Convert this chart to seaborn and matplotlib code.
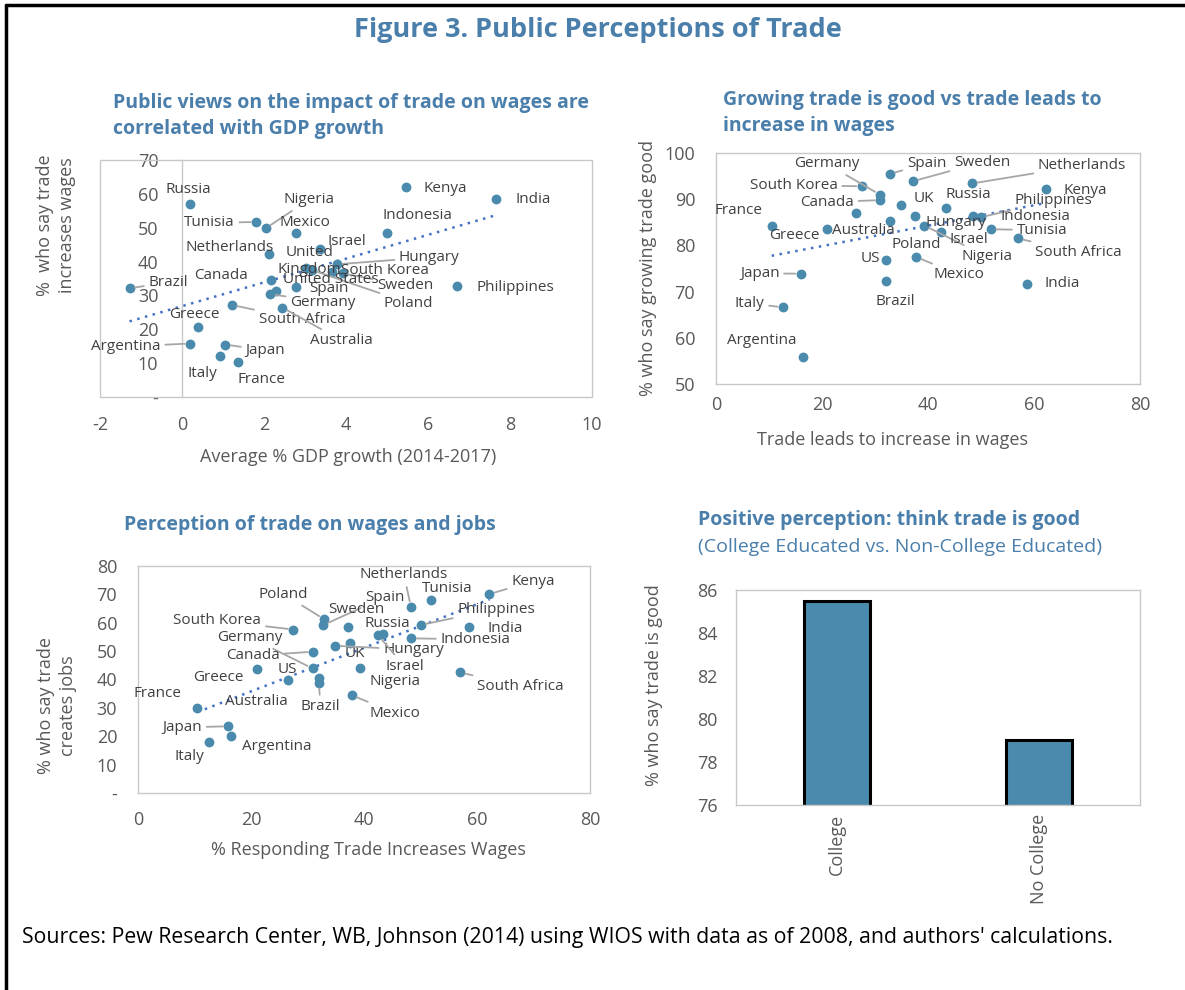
import numpy as np
import pandas as pd
import seaborn as sns
import matplotlib.pyplot as plt
from matplotlib.lines import Line2D
from matplotlib.patches import Rectangle
from matplotlib.ticker import FuncFormatter

# Panel 1: GDP growth vs share saying trade increases wages
gdp_countries = ["Russia", "Tunisia", "Nigeria", "Mexico", "Netherlands", "Israel",
                 "United Kingdom", "Hungary", "South Korea", "Sweden", "Poland",
                 "United States", "Spain", "Germany", "Canada", "Brazil", "Philippines",
                 "Kenya", "India", "Indonesia", "South Africa", "Australia", "Greece",
                 "Argentina", "Japan", "Italy", "France"]
gdp_growth = [0.20, 1.81, 2.04, 2.77, 2.11, 3.36, 3.03, 3.78, 3.66, 3.93, 3.17,
              2.30, 2.77, 2.15, 2.18, -1.28, 6.71, 5.46, 7.67, 5.00, 1.21, 2.45,
              0.39, 0.20, 1.06, 0.92, 1.37]
gdp_wages = [57.1, 51.7, 49.8, 48.3, 42.2, 43.6, 38.0, 39.2, 37.0, 36.5, 37.5,
             31.4, 32.5, 30.4, 34.7, 32.1, 32.7, 62.0, 58.5, 48.3, 27.2, 26.4,
             20.6, 15.8, 15.5, 12.1, 10.4]

# Panels 2 and 3: survey answers by country
countries = ["France", "Greece", "Australia", "South Korea", "Germany", "Canada",
             "Spain", "Poland", "Sweden", "Netherlands", "Kenya", "UK", "Russia",
             "Hungary", "Nigeria", "Israel", "US", "Mexico", "Brazil", "Philippines",
             "Indonesia", "Tunisia", "South Africa", "India", "Japan", "Italy", "Argentina"]
wages_pct = [10.5, 21.0, 26.5, 27.5, 30.9, 31.0, 32.8, 32.9, 37.2, 48.3, 62.2, 37.5,
             43.4, 34.9, 39.3, 42.5, 32.0, 37.8, 32.0, 50.0, 48.4, 51.8, 57.0, 58.6,
             16.0, 12.6, 16.4]
trade_good_pct = [84.3, 83.5, 87.0, 92.8, 91.0, 89.8, 95.5, 85.2, 93.9, 93.4, 92.1,
                  86.3, 88.1, 88.8, 84.3, 83.0, 76.8, 77.5, 72.4, 86.1, 86.4, 83.5,
                  81.5, 71.7, 73.9, 66.6, 55.8]
jobs_pct = [30.0, 43.6, 39.8, 57.6, 43.9, 49.8, 59.2, 61.3, 58.6, 65.6, 70.1, 52.9,
            55.9, 51.9, 44.1, 55.6, 40.7, 34.5, 38.8, 59.2, 54.5, 68.0, 42.5, 58.4,
            23.5, 17.8, 20.0]

# Panel 4
edu_groups = ["College", "No College"]
edu_good_pct = [85.5, 79.0]

# label placement (pixel offsets from the dot, leader line flag)
labels1 = {
    "Russia": (-25, 14, False), "Tunisia": (-72, -1, True), "Nigeria": (18, 29, True),
    "Mexico": (-16, 11, False), "Netherlands": (-83, 7, False), "Israel": (8, 8, False),
    "United Kingdom": (3, 7, False), "Hungary": (62, 7, True), "South Korea": (9, 1, False),
    "Sweden": (34, -12, True), "Poland": (72, -33, True), "United States": (7, 11, False),
    "Spain": (14, -2, False), "Germany": (20, -8, True), "Canada": (-77, 4, False),
    "Brazil": (19, 6, True), "Philippines": (19, -1, False), "Kenya": (18, -1, False),
    "India": (19, -1, False), "Indonesia": (-5, 18, False), "South Africa": (27, -15, True),
    "Australia": (28, -33, True), "Greece": (-29, 13, False), "Argentina": (-99, -3, True),
    "Japan": (20, -6, True), "Italy": (-32, -17, False), "France": (-1, -18, False),
}
labels2 = {
    "France": (-57, 15, False), "Greece": (-58, -6, False), "Australia": (-24, -17, False),
    "South Korea": (-112, 1, True), "Germany": (-86, 31, True), "Canada": (-80, -2, True),
    "Spain": (17, 10, True), "Sweden": (41, 19, True), "Netherlands": (66, 18, True),
    "Kenya": (18, -1, False), "UK": (-1, 18, False), "Russia": (-1, 13, False),
    "Hungary": (25, -18, False), "Nigeria": (37, -31, True), "Israel": (8, -8, False),
    "Poland": (1, -23, False), "US": (-25, 2, False), "Mexico": (17, -18, True),
    "Brazil": (-10, -21, False), "Philippines": (34, 17, True), "Indonesia": (28, -1, False),
    "Tunisia": (26, -1, True), "South Africa": (17, -14, True), "India": (18, 0, False),
    "Japan": (-61, 0, True), "Italy": (-48, 4, True), "Argentina": (-76, 17, False),
}
labels3 = {
    "France": (-64, 14, False), "Greece": (-64, -8, False), "Australia": (-63, -21, False),
    "South Korea": (-120, 9, True), "Germany": (-95, 31, True), "Canada": (-87, -4, True),
    "Spain": (42, 28, True), "Poland": (-65, 25, True), "Sweden": (-20, 17, False),
    "Netherlands": (-51, 32, True), "Kenya": (22, 13, True), "UK": (-5, -11, False),
    "Russia": (-19, 11, False), "Hungary": (48, -4, True), "Nigeria": (9, -14, False),
    "Israel": (7, -31, True), "US": (-41, 8, False), "Mexico": (18, -18, True),
    "Brazil": (-18, -24, True), "Philippines": (37, 16, True), "Indonesia": (29, -1, True),
    "Tunisia": (-9, 12, False), "South Africa": (17, -14, True), "India": (18, -1, False),
    "Japan": (-66, -1, True), "Argentina": (11, -10, False), "Italy": (-35, -14, False),
}

W, H = 1185, 990
BLUE_T = "#4a7eab"
DOT = "#4a8bad"
TREND = "#4472c4"
GREY_TXT = "#595959"
SPINE = "#c8c8c8"

sns.set_theme(style="white")
plt.rcParams["font.family"] = ["Open Sans", "DejaVu Sans"]
plt.rcParams["axes.unicode_minus"] = False

fig = plt.figure(figsize=(W / 100, H / 100), dpi=100)


def px_rect(left, top, right, bottom):
    return [left / W, 1 - bottom / H, (right - left) / W, (bottom - top) / H]


def ftext(x, y, s, **kw):
    fig.text(x / W, 1 - y / H, s, **kw)


def style_axes(ax):
    for sp in ax.spines.values():
        sp.set_color(SPINE)
        sp.set_linewidth(1)
    ax.tick_params(axis="both", colors=SPINE, labelcolor=GREY_TXT, labelsize=13)
    ax.tick_params(axis="y", direction="out", length=5, width=1, pad=10)
    ax.tick_params(axis="x", direction="in", length=5, width=1, pad=9)
    ax.set_xlabel("")
    ax.set_ylabel("")


def dash_zero(v, pos):
    return "-" if abs(v) < 1e-9 else f"{v:.0f}"


def scatter_panel(ax, xs, ys, names, offsets):
    df = pd.DataFrame({"x": xs, "y": ys, "name": names})
    sns.regplot(data=df, x="x", y="y", ax=ax, scatter=False, ci=None, truncate=True,
                line_kws=dict(color=TREND, lw=1.8, ls=(0, (1, 2.2))))
    sns.scatterplot(data=df, x="x", y="y", ax=ax, color=DOT, s=50, linewidth=0, zorder=3)
    for name, x, y in zip(names, xs, ys):
        dx, dy, lead = offsets[name]
        text = name
        ha = "left"
        if name == "United Kingdom":
            text, ha = "United\nKingdom", "center"
        arrow = None
        if lead:
            arrow = dict(arrowstyle="-", color="#a6a6a6", lw=1.3, shrinkA=1, shrinkB=4)
        ax.annotate(text, (x, y), xytext=(dx, dy), textcoords="offset pixels",
                    ha=ha, va="center", fontsize=11, color="#404040",
                    arrowprops=arrow, zorder=4, linespacing=1.2)


# ---------------- Panel 1
ax1 = fig.add_axes(px_rect(100, 160, 592, 397))
scatter_panel(ax1, gdp_growth, gdp_wages, gdp_countries, labels1)
style_axes(ax1)
ax1.set_xlim(-2, 10)
ax1.set_ylim(0, 70)
ax1.set_xticks(np.arange(-2, 11, 2))
ax1.set_yticks(np.arange(0, 71, 10))
ax1.yaxis.set_major_formatter(FuncFormatter(dash_zero))
ax1.spines["left"].set_position(("data", 0))
for s in ["top", "right", "bottom"]:
    ax1.spines[s].set_visible(False)
ax1.add_patch(Rectangle((0, 0), 1, 1, transform=ax1.transAxes, fill=False,
                        ec=SPINE, lw=1, clip_on=False))
ax1.tick_params(axis="x", pad=14)
ax1.tick_params(axis="y", pad=12)

# ---------------- Panel 2
ax2 = fig.add_axes(px_rect(716, 153, 1140, 384))
scatter_panel(ax2, wages_pct, trade_good_pct, countries, labels2)
style_axes(ax2)
ax2.set_xlim(0, 80)
ax2.set_ylim(50, 100)
ax2.set_xticks(np.arange(0, 81, 20))
ax2.set_yticks(np.arange(50, 101, 10))

# ---------------- Panel 3
ax3 = fig.add_axes(px_rect(138, 566, 590, 793))
scatter_panel(ax3, wages_pct, jobs_pct, countries, labels3)
style_axes(ax3)
ax3.set_xlim(0, 80)
ax3.set_ylim(0, 80)
ax3.set_xticks(np.arange(0, 81, 20))
ax3.set_yticks(np.arange(0, 81, 10))
ax3.yaxis.set_major_formatter(FuncFormatter(dash_zero))
ax3.tick_params(axis="x", pad=13)

# ---------------- Panel 4
ax4 = fig.add_axes(px_rect(736, 590, 1140, 805))
sns.barplot(x=edu_groups, y=edu_good_pct, ax=ax4, color=DOT, saturation=1,
            edgecolor="black", linewidth=2.2, width=0.33)
style_axes(ax4)
ax4.set_ylim(76, 86)
ax4.set_yticks(np.arange(76, 87, 2))
ax4.set_xlim(-0.5, 1.5)
ax4.set_xticks([0, 1])
ax4.set_xticks([0.5], minor=True)
ax4.tick_params(axis="x", which="major", length=0, rotation=90, pad=6)
ax4.tick_params(axis="x", which="minor", direction="in", length=5, color=SPINE)
ax4.tick_params(axis="y", pad=8)

# ---------------- Texts
ftext(598, 30, "Figure 3. Public Perceptions of Trade", ha="center", va="center",
      fontsize=19.5, fontweight="bold", color=BLUE_T)
ftext(113, 116, "Public views on the impact of trade on wages are\ncorrelated with GDP growth",
      ha="left", va="center", fontsize=14, fontweight="bold", color=BLUE_T, linespacing=1.35)
ftext(723, 113, "Growing trade is good vs trade leads to\nincrease in wages",
      ha="left", va="center", fontsize=14, fontweight="bold", color=BLUE_T, linespacing=1.35)
ftext(124, 525, "Perception of trade on wages and jobs",
      ha="left", va="center", fontsize=14, fontweight="bold", color=BLUE_T)
ftext(698, 520, "Positive perception: think trade is good",
      ha="left", va="center", fontsize=14, fontweight="bold", color=BLUE_T)
ftext(698, 547, "(College Educated vs. Non-College Educated)",
      ha="left", va="center", fontsize=14, color=BLUE_T)

ftext(56, 225, "%  who say trade\nincreases wages", rotation=90, ha="center", va="center",
      fontsize=13, color=GREY_TXT, multialignment="center", linespacing=1.3)
ftext(348, 457, "Average % GDP growth (2014-2017)", ha="center", va="center",
      fontsize=13, color=GREY_TXT)
ftext(648, 268, "% who say growing trade good", rotation=90, ha="center", va="center",
      fontsize=13, color=GREY_TXT)
ftext(893, 440, "Trade leads to increase in wages", ha="center", va="center",
      fontsize=13, color=GREY_TXT)
ftext(57, 706, "% who say trade\ncreates jobs", rotation=90, ha="center", va="center",
      fontsize=13, color=GREY_TXT, multialignment="center", linespacing=1.3)
ftext(368, 850, "% Responding Trade Increases Wages", ha="center", va="center",
      fontsize=13, color=GREY_TXT)
ftext(654, 685, "% who say trade is good", rotation=90, ha="center", va="center",
      fontsize=13, color=GREY_TXT)

ftext(22, 937, "Sources: Pew Research Center, WB, Johnson (2014) using WIOS with data as of 2008, and authors' calculations.",
      ha="left", va="center", fontsize=15.3, color="black")

# frame lines at left and top
fig.add_artist(Line2D([6 / W, 6 / W], [0, 1 - 5 / H], transform=fig.transFigure,
                      color="black", lw=2.5))
fig.add_artist(Line2D([6 / W, 1], [1 - 5 / H, 1 - 5 / H], transform=fig.transFigure,
                      color="black", lw=2.5))

fig.savefig("out.png", dpi=100)
